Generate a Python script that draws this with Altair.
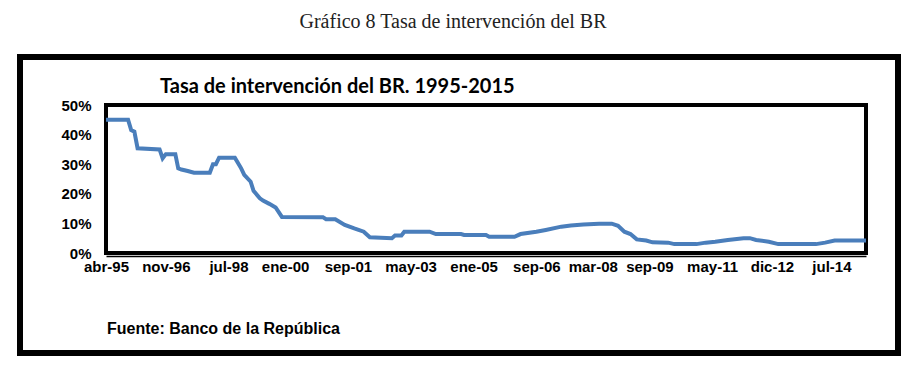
import altair as alt
import pandas as pd

# Series: Tasa de intervención del BR (percent)
dates = [
    "1995-04-01", "1995-11-01", "1995-12-01", "1996-01-01", "1996-02-01", "1996-09-01",
    "1996-10-01", "1996-11-01", "1997-02-01", "1997-03-01", "1997-04-01", "1997-06-01",
    "1997-08-01", "1998-01-01", "1998-02-01", "1998-03-01", "1998-04-01", "1998-09-01",
    "1998-11-01", "1998-12-01", "1999-02-01", "1999-03-01", "1999-05-01", "1999-06-01",
    "1999-08-01", "1999-10-01", "1999-12-01", "2001-01-01", "2001-02-01", "2001-05-01",
    "2001-08-01", "2001-11-01", "2002-02-01", "2002-04-01", "2002-11-01", "2002-12-01",
    "2003-02-01", "2003-03-01", "2003-11-01", "2004-01-01", "2004-09-01", "2004-10-01",
    "2005-05-01", "2005-06-01", "2006-02-01", "2006-04-01", "2006-09-01", "2006-12-01",
    "2007-05-01", "2007-08-01", "2007-12-01", "2008-05-01", "2008-09-01", "2008-11-01",
    "2009-01-01", "2009-03-01", "2009-05-01", "2009-08-01", "2009-10-01", "2010-03-01",
    "2010-05-01", "2010-12-01", "2011-03-01", "2011-06-01", "2011-10-01", "2012-03-01",
    "2012-05-01", "2012-07-01", "2012-11-01", "2013-02-01", "2014-02-01", "2014-05-01",
    "2014-08-01", "2015-06-01",
]
rates = [
    45.0, 45.0, 41.5, 41.0, 35.4, 35.0,
    32.0, 33.4, 33.4, 28.6, 28.2, 27.7,
    27.1, 27.1, 30.0, 30.0, 32.2, 32.2,
    28.6, 26.4, 24.1, 21.0, 18.5, 17.7,
    16.6, 15.4, 12.2, 12.1, 11.4, 11.4,
    9.5, 8.3, 7.2, 5.3, 5.0, 5.9,
    5.9, 7.2, 7.2, 6.4, 6.4, 6.1,
    6.1, 5.5, 5.5, 6.4, 7.2, 7.8,
    8.9, 9.3, 9.6, 9.9, 9.9, 9.2,
    7.2, 6.4, 4.6, 4.2, 3.6, 3.5,
    3.0, 3.0, 3.5, 3.8, 4.4, 5.0,
    5.0, 4.4, 3.8, 3.0, 3.0, 3.5,
    4.2, 4.2,
]

tick_dates = ["1995-04-01", "1996-11-01", "1998-07-01", "2000-01-01", "2001-09-01",
              "2003-05-01", "2005-01-01", "2006-09-01", "2008-03-01", "2009-09-01",
              "2011-05-01", "2012-12-01", "2014-07-01"]
tick_labels = ["abr-95", "nov-96", "jul-98", "ene-00", "sep-01", "may-03", "ene-05",
               "sep-06", "mar-08", "sep-09", "may-11", "dic-12", "jul-14"]
y_ticks = [0, 0.1, 0.2, 0.3, 0.4, 0.5]

page_title = "Gráfico 8 Tasa de intervención del BR"
chart_title = "Tasa de intervención del BR. 1995-2015"
source = "Fuente: Banco de la República"


def ms(d):
    return int(pd.Timestamp(d, tz="UTC").value // 10**6)


df = pd.DataFrame({"fecha": dates, "tasa": [r / 100 for r in rates]})
tick_ms = [ms(d) for d in tick_dates]
label_map = "{" + ",".join(f"'{t}':'{l}'" for t, l in zip(tick_ms, tick_labels)) + "}"

line = alt.Chart(df).mark_line(color="#4A7EBB", strokeWidth=4, clip=False).encode(
    x=alt.X(
        "fecha:T",
        scale=alt.Scale(type="utc", domain=[ms("1995-04-01"), ms("2015-06-01")]),
        axis=alt.Axis(
            values=tick_ms,
            labelExpr=f"{label_map}[''+time(datum.value)]",
            title=None,
            grid=False,
            ticks=False,
            domain=True,
            domainColor="black",
            domainWidth=1.5,
            offset=3,
            labelAngle=0,
            labelFont="Liberation Sans",
            labelFontWeight="bold",
            labelFontSize=15,
            labelColor="black",
            labelPadding=3,
            labelOverlap=False,
            labelFlush=False,
            labelBound=False,
        ),
    ),
    y=alt.Y(
        "tasa:Q",
        scale=alt.Scale(domain=[0, 0.5], nice=False, zero=True),
        axis=alt.Axis(
            values=y_ticks,
            format=".0%",
            title=None,
            grid=False,
            ticks=False,
            domain=False,
            labelFont="Liberation Sans",
            labelFontWeight="bold",
            labelFontSize=15,
            labelColor="black",
            labelPadding=15,
        ),
    ),
)

one = alt.Data(values=[{}])

frame = alt.Chart(one).mark_rect(filled=False, stroke="black", strokeWidth=6, clip=False).encode(
    x=alt.value(-86), x2=alt.value(792), y=alt.value(-48), y2=alt.value(248)
)

t_page = alt.Chart(one).mark_text(
    text=page_title, font="Liberation Serif", fontSize=20, color="#222", align="center", baseline="alphabetic"
).encode(x=alt.value(347), y=alt.value(-77))

t_chart = alt.Chart(one).mark_text(
    text=chart_title, font="Lato", fontWeight="bold", fontSize=20, color="black", align="left", baseline="alphabetic"
).encode(x=alt.value(54), y=alt.value(-12))

t_src = alt.Chart(one).mark_text(
    text=source, font="Liberation Sans", fontWeight="bold", fontSize=16, color="black", align="left", baseline="alphabetic"
).encode(x=alt.value(1), y=alt.value(229))

chart = alt.layer(frame, line, t_page, t_chart, t_src).properties(
    width=760,
    height=148,
    autosize=alt.AutoSizeParams(type="none"),
    padding={"left": 106, "top": 105, "right": 56, "bottom": 119},
    background="white",
).configure_view(stroke="black", strokeWidth=4)

chart.save("out.html", embed_options={"renderer": "svg", "actions": False})
